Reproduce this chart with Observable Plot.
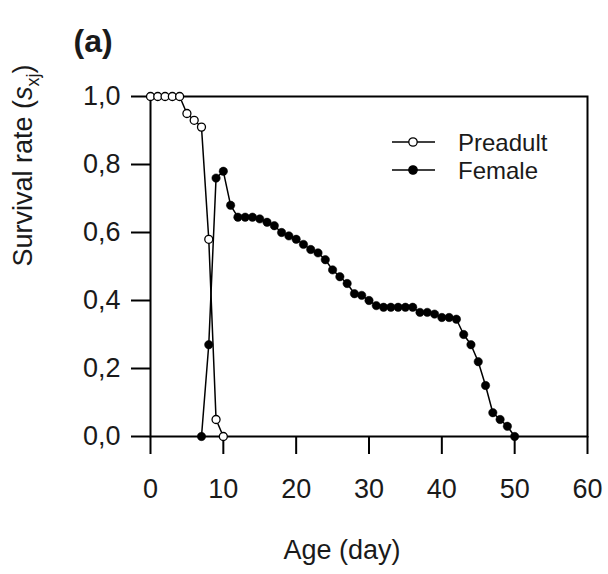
<!DOCTYPE html>
<html>
<head>
<meta charset="utf-8">
<script src="https://cdn.jsdelivr.net/npm/d3@7"></script>
<script src="https://cdn.jsdelivr.net/npm/@observablehq/plot@0.6"></script>
<style>
  html, body { margin: 0; padding: 0; background: white; }
  #chart { width: 608px; height: 574px; }
</style>
</head>
<body>
<div id="chart"></div>
<script>
// ---- Data ----
const preadultAge  = [0, 1, 2, 3, 4, 5, 6, 7, 8, 9, 10];
const preadultRate = [1, 1, 1, 1, 1, 0.95, 0.93, 0.91, 0.58, 0.05, 0];

const femaleAge  = [7, 8, 9, 10, 11, 12, 13, 14, 15, 16, 17, 18, 19, 20, 21, 22, 23, 24, 25, 26, 27, 28,
                    29, 30, 31, 32, 33, 34, 35, 36, 37, 38, 39, 40, 41, 42, 43, 44, 45, 46, 47, 48, 49, 50];
const femaleRate = [0, 0.27, 0.76, 0.78, 0.68, 0.645, 0.645, 0.645, 0.64, 0.63, 0.62, 0.60, 0.59, 0.58,
                    0.565, 0.55, 0.54, 0.52, 0.49, 0.47, 0.45, 0.42, 0.415, 0.40, 0.385, 0.38, 0.38, 0.38,
                    0.38, 0.38, 0.365, 0.365, 0.36, 0.35, 0.35, 0.345, 0.30, 0.27, 0.22, 0.15, 0.07, 0.05,
                    0.03, 0];

const xTicks = [0, 10, 20, 30, 40, 50, 60];
const yTicks = [0, 0.2, 0.4, 0.6, 0.8, 1.0];
const seriesNames = ["Preadult", "Female"];
const xTitle = "Age (day)";
const yTitle = "Survival rate (s)";
const panelTitle = "(a)";

const preadult = preadultAge.map((a, i) => ({age: a, rate: preadultRate[i]}));
const female = femaleAge.map((a, i) => ({age: a, rate: femaleRate[i]}));

const font = "'Liberation Sans', Arial, sans-serif";
const ink = "#1a1a1a";

const chart = Plot.plot({
  width: 608,
  height: 574,
  marginLeft: 150,
  marginRight: 21,
  marginTop: 96,
  marginBottom: 138,
  style: {fontFamily: font, fontSize: "27px", background: "white", color: ink},
  x: {domain: [0, 60]},
  y: {domain: [0, 1]},
  marks: [
    Plot.axisX({ticks: xTicks, tickSize: 18, tickPadding: 24, label: null, stroke: "black", strokeWidth: 2, fill: ink}),
    Plot.axisY({ticks: yTicks, tickSize: 19, tickPadding: 11, label: null, stroke: "black", strokeWidth: 2, fill: ink,
                tickFormat: d => d.toFixed(1).replace(".", ",")}),
    Plot.frame({stroke: "black", strokeWidth: 2}),
    Plot.line(preadult, {x: "age", y: "rate", stroke: "black", strokeWidth: 1.5}),
    Plot.line(female, {x: "age", y: "rate", stroke: "black", strokeWidth: 1.5}),
    Plot.dot(preadult, {x: "age", y: "rate", r: 4, fill: "white", stroke: "black", strokeWidth: 1.3}),
    Plot.dot(female, {x: "age", y: "rate", r: 4.2, fill: "black", stroke: "black", strokeWidth: 0.5}),
    Plot.text([xTitle], {frameAnchor: "bottom", dx: -27, dy: 122, fill: ink}),
    Plot.text([yTitle], {frameAnchor: "left", dx: -127, rotate: -90, fill: ink}),
    Plot.text([panelTitle], {frameAnchor: "top-left", dx: -77, dy: -67, textAnchor: "start",
                             fontWeight: "bold", fontSize: 32, fill: ink})
  ]
});

document.getElementById("chart").appendChild(chart);

// y-axis title: italic s with subscript xj
const svg = d3.select(chart);
svg.selectAll("text").filter(function() { return this.textContent === yTitle; }).each(function() {
  const t = d3.select(this);
  t.text(null);
  t.append("tspan").text("Survival rate (");
  t.append("tspan").attr("font-style", "italic").text("s");
  t.append("tspan").attr("font-size", "18px").attr("dy", 7).text("xj");
  t.append("tspan").attr("dy", -7).text(")");
});

// legend
const legend = svg.append("g").attr("font-family", font).attr("font-size", 24).attr("text-anchor", "start");
const legendY = [142, 170];
seriesNames.forEach((name, i) => {
  const y = legendY[i];
  legend.append("line").attr("x1", 392).attr("x2", 435).attr("y1", y).attr("y2", y)
    .attr("stroke", "black").attr("stroke-width", 1.5);
  legend.append("circle").attr("cx", 413).attr("cy", y).attr("r", 4.2)
    .attr("fill", i === 0 ? "white" : "black").attr("stroke", "black").attr("stroke-width", 1.3);
  legend.append("text").attr("x", 458).attr("y", y + 8.5).attr("text-anchor", "start").attr("fill", ink).text(name);
});
</script>
</body>
</html>
